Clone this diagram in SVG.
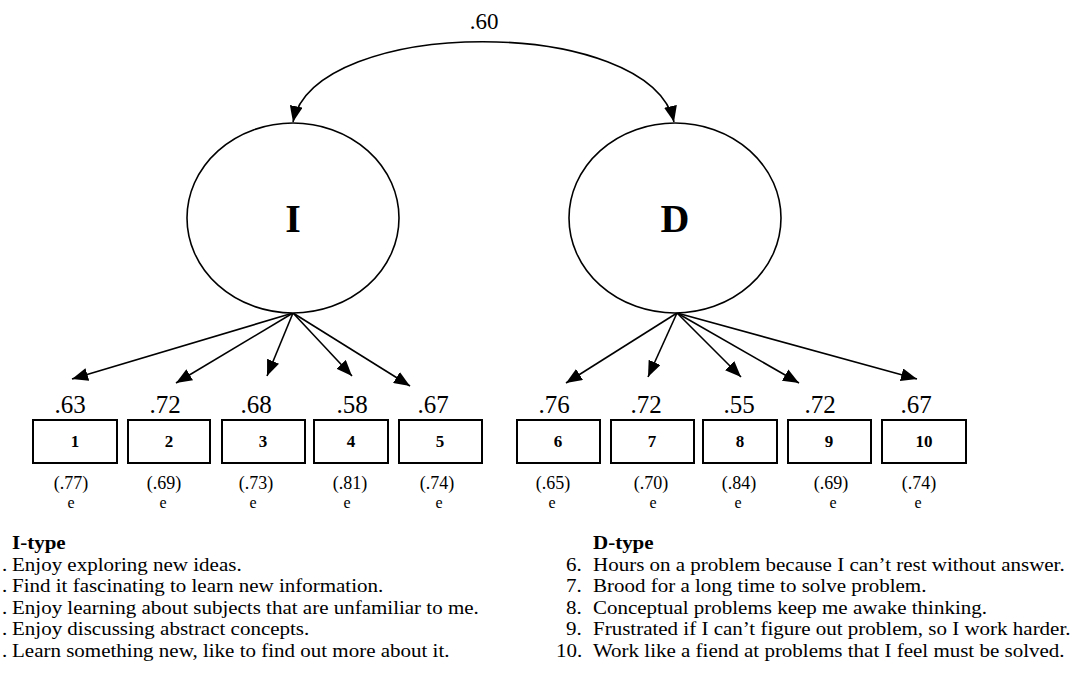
<svg xmlns="http://www.w3.org/2000/svg" width="1078" height="675" viewBox="0 0 1078 675">
<defs>
<marker id="ah" viewBox="0 0 16 13" refX="16" refY="6.5" markerWidth="16" markerHeight="13" markerUnits="userSpaceOnUse" orient="auto-start-reverse">
<path d="M0,0 L16,6.5 L0,13 z" fill="#000"/>
</marker>
<style>
text{font-family:"Liberation Serif","Times New Roman",serif;fill:#000}
.lat{fill:#fff;stroke:#000;stroke-width:1.6}
.box{fill:#fff;stroke:#000;stroke-width:2}
.latlab{font-size:40px;font-weight:bold;text-anchor:middle}
.num{font-size:17px;font-weight:bold;text-anchor:middle}
.load{font-size:25px;text-anchor:middle}
.err{font-size:18px;text-anchor:middle}
.e{font-size:16px;text-anchor:middle}
.conn path{fill:none;stroke:#000;stroke-width:1.6;marker-end:url(#ah)}
.item{font-size:19.4px}
.head{font-weight:bold}
</style>
</defs>
<rect width="1078" height="675" fill="#fff"/>

<g id="connectors" class="conn">
<path d="M293 122 C315 15,650 15,674 122" style="marker-start:url(#ah)"/>
<path d="M293 313 L72 379"/>
<path d="M293 313 L176 383"/>
<path d="M293 313 L267 376"/>
<path d="M293 313 L352 376"/>
<path d="M293 313 L410 386"/>
<path d="M677 313 L566 383"/>
<path d="M677 313 L648 377"/>
<path d="M677 313 L741 377"/>
<path d="M677 313 L799 383"/>
<path d="M677 313 L917 379"/>
</g>
<text x="484" y="29" style="font-size:23px;text-anchor:middle">.60</text>

<g id="I"><ellipse class="lat" cx="293" cy="218" rx="106" ry="95"/><text class="latlab" x="293" y="232">I</text></g>
<g id="D"><ellipse class="lat" cx="675" cy="218" rx="106" ry="95"/><text class="latlab" x="675" y="232">D</text></g>

<g id="item1"><rect class="box" x="33" y="420" width="84" height="43"/><text class="num" x="75" y="447">1</text><text class="load" x="70" y="413">.63</text><text class="err" x="71" y="489">(.77)</text><text class="e" x="71" y="508">e</text></g>
<g id="item2"><rect class="box" x="128" y="420" width="82" height="43"/><text class="num" x="169" y="447">2</text><text class="load" x="165" y="413">.72</text><text class="err" x="164" y="489">(.69)</text><text class="e" x="163" y="508">e</text></g>
<g id="item3"><rect class="box" x="222" y="420" width="83" height="43"/><text class="num" x="263" y="447">3</text><text class="load" x="256" y="413">.68</text><text class="err" x="256" y="489">(.73)</text><text class="e" x="253" y="508">e</text></g>
<g id="item4"><rect class="box" x="314" y="420" width="74" height="43"/><text class="num" x="351" y="447">4</text><text class="load" x="352" y="413">.58</text><text class="err" x="350" y="489">(.81)</text><text class="e" x="347" y="508">e</text></g>
<g id="item5"><rect class="box" x="399" y="420" width="83" height="43"/><text class="num" x="440" y="447">5</text><text class="load" x="433" y="413">.67</text><text class="err" x="437" y="489">(.74)</text><text class="e" x="439" y="508">e</text></g>
<g id="item6"><rect class="box" x="517" y="420" width="83" height="43"/><text class="num" x="558" y="447">6</text><text class="load" x="554" y="413">.76</text><text class="err" x="553" y="489">(.65)</text><text class="e" x="552" y="508">e</text></g>
<g id="item7"><rect class="box" x="611" y="420" width="83" height="43"/><text class="num" x="652" y="447">7</text><text class="load" x="646" y="413">.72</text><text class="err" x="651" y="489">(.70)</text><text class="e" x="653" y="508">e</text></g>
<g id="item8"><rect class="box" x="703" y="420" width="74" height="43"/><text class="num" x="740" y="447">8</text><text class="load" x="739" y="413">.55</text><text class="err" x="739" y="489">(.84)</text><text class="e" x="738" y="508">e</text></g>
<g id="item9"><rect class="box" x="788" y="420" width="83" height="43"/><text class="num" x="829" y="447">9</text><text class="load" x="820" y="413">.72</text><text class="err" x="831" y="489">(.69)</text><text class="e" x="833" y="508">e</text></g>
<g id="item10"><rect class="box" x="882" y="420" width="84" height="43"/><text class="num" x="924" y="447">10</text><text class="load" x="916" y="413">.67</text><text class="err" x="919" y="489">(.74)</text><text class="e" x="918" y="508">e</text></g>

<g id="legend-I" transform="scale(1.0825,1)">
<text class="item"><tspan class="head" x="11.09" y="549">I-type</tspan><tspan x="1.85" y="571">.</tspan><tspan x="11.09" y="571">Enjoy exploring new ideas.</tspan><tspan x="1.85" y="592">.</tspan><tspan x="11.09" y="592">Find it fascinating to learn new information.</tspan><tspan x="1.85" y="614">.</tspan><tspan x="11.09" y="614">Enjoy learning about subjects that are unfamiliar to me.</tspan><tspan x="1.85" y="635">.</tspan><tspan x="11.09" y="635">Enjoy discussing abstract concepts.</tspan><tspan x="1.85" y="657">.</tspan><tspan x="11.09" y="657">Learn something new, like to find out more about it.</tspan></text>
</g>
<g id="legend-D" transform="scale(1.0825,1)">
<text class="item"><tspan class="head" x="547.8" y="549">D-type</tspan><tspan x="522.9" y="571">6.</tspan><tspan x="547.8" y="571">Hours on a problem because I can’t rest without answer.</tspan><tspan x="522.9" y="592">7.</tspan><tspan x="547.8" y="592">Brood for a long time to solve problem.</tspan><tspan x="522.9" y="614">8.</tspan><tspan x="547.8" y="614">Conceptual problems keep me awake thinking.</tspan><tspan x="522.9" y="635">9.</tspan><tspan x="547.8" y="635">Frustrated if I can’t figure out problem, so I work harder.</tspan><tspan x="513.6" y="657">10.</tspan><tspan x="547.8" y="657">Work like a fiend at problems that I feel must be solved.</tspan></text>
</g>
</svg>
